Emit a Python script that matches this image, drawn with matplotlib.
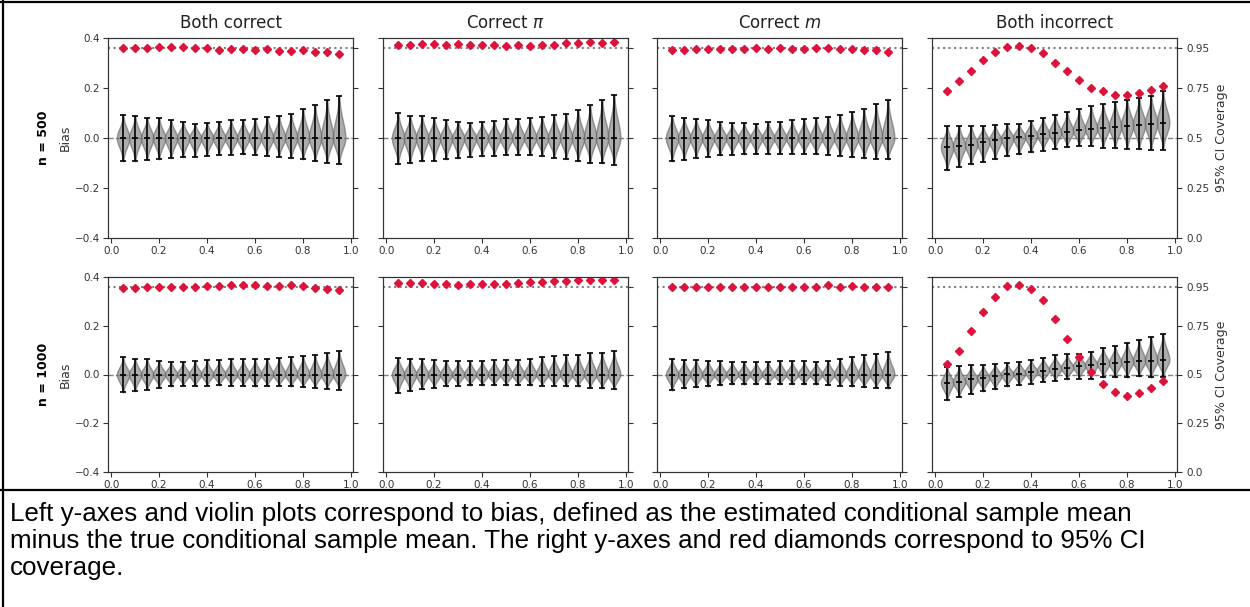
import matplotlib
matplotlib.use('Agg')
import matplotlib.pyplot as plt
from matplotlib.lines import Line2D
import numpy as np

# x positions (proportion) shared by every panel
x = [0.05, 0.10, 0.15, 0.20, 0.25, 0.30, 0.35, 0.40, 0.45, 0.50,
     0.55, 0.60, 0.65, 0.70, 0.75, 0.80, 0.85, 0.90, 0.95]

titles = ['Both correct', r'Correct $\pi$', r'Correct $m$', 'Both incorrect']
rows = ['n = 500', 'n = 1000']

# ---- n = 500 ----
cov_500_both = [0.948, 0.948, 0.952, 0.953, 0.957, 0.955, 0.950, 0.948, 0.942, 0.945,
                0.943, 0.940, 0.945, 0.937, 0.937, 0.940, 0.928, 0.928, 0.918]
mean_500_both = [0.0] * 19
lo_500_both = [-0.093, -0.093, -0.088, -0.085, -0.080, -0.077, -0.074, -0.070, -0.066, -0.066,
               -0.065, -0.068, -0.070, -0.074, -0.080, -0.085, -0.092, -0.099, -0.103]
hi_500_both = [0.092, 0.088, 0.082, 0.080, 0.072, 0.066, 0.057, 0.062, 0.066, 0.072,
               0.074, 0.078, 0.084, 0.088, 0.097, 0.116, 0.131, 0.151, 0.169]

cov_500_pi = [0.965, 0.965, 0.970, 0.970, 0.965, 0.970, 0.965, 0.965, 0.965, 0.958,
              0.965, 0.958, 0.965, 0.965, 0.973, 0.977, 0.978, 0.977, 0.982]
mean_500_pi = [0.0] * 19
lo_500_pi = [-0.104, -0.100, -0.093, -0.090, -0.085, -0.081, -0.077, -0.073, -0.070, -0.068,
             -0.068, -0.068, -0.072, -0.080, -0.084, -0.092, -0.099, -0.101, -0.107]
hi_500_pi = [0.099, 0.090, 0.088, 0.080, 0.072, 0.066, 0.061, 0.064, 0.069, 0.076,
             0.078, 0.082, 0.085, 0.092, 0.096, 0.114, 0.131, 0.153, 0.174]

cov_500_m = [0.940, 0.940, 0.943, 0.943, 0.943, 0.943, 0.947, 0.952, 0.947, 0.952,
             0.947, 0.947, 0.952, 0.952, 0.947, 0.947, 0.940, 0.940, 0.930]
mean_500_m = [0.0] * 19
lo_500_m = [-0.093, -0.088, -0.080, -0.074, -0.069, -0.066, -0.065, -0.064, -0.064, -0.062,
            -0.062, -0.062, -0.064, -0.066, -0.072, -0.077, -0.081, -0.082, -0.085]
hi_500_m = [0.090, 0.082, 0.077, 0.072, 0.064, 0.059, 0.061, 0.058, 0.064, 0.066,
            0.072, 0.076, 0.080, 0.085, 0.093, 0.103, 0.116, 0.135, 0.154]

cov_500_none = [0.733, 0.783, 0.837, 0.892, 0.930, 0.955, 0.960, 0.952, 0.925, 0.877,
                0.835, 0.792, 0.750, 0.737, 0.717, 0.717, 0.723, 0.742, 0.762]
mean_500_none = [-0.036, -0.031, -0.026, -0.016, -0.009, -0.001, 0.004, 0.009, 0.015, 0.020,
                 0.026, 0.031, 0.036, 0.042, 0.045, 0.050, 0.054, 0.058, 0.061]
lo_500_none = [-0.128, -0.115, -0.105, -0.096, -0.084, -0.072, -0.065, -0.057, -0.050, -0.042,
               -0.036, -0.031, -0.031, -0.038, -0.041, -0.043, -0.045, -0.046, -0.046]
hi_500_none = [0.049, 0.049, 0.050, 0.050, 0.054, 0.057, 0.057, 0.070, 0.082, 0.093,
               0.103, 0.115, 0.128, 0.136, 0.145, 0.154, 0.162, 0.169, 0.189]

# ---- n = 1000 ----
cov_1000_both = [0.945, 0.945, 0.948, 0.950, 0.948, 0.948, 0.950, 0.953, 0.955, 0.958,
                 0.958, 0.958, 0.955, 0.955, 0.957, 0.952, 0.945, 0.938, 0.935]
mean_1000_both = [0.0] * 19
lo_1000_both = [-0.073, -0.068, -0.062, -0.054, -0.049, -0.046, -0.046, -0.046, -0.045, -0.046,
                -0.046, -0.049, -0.046, -0.046, -0.049, -0.052, -0.054, -0.058, -0.062]
hi_1000_both = [0.070, 0.065, 0.062, 0.057, 0.053, 0.053, 0.056, 0.058, 0.058, 0.062,
                0.062, 0.062, 0.065, 0.068, 0.072, 0.075, 0.078, 0.087, 0.097]

cov_1000_pi = [0.968, 0.968, 0.968, 0.965, 0.962, 0.960, 0.965, 0.965, 0.965, 0.965,
               0.968, 0.972, 0.975, 0.978, 0.982, 0.983, 0.983, 0.983, 0.985]
mean_1000_pi = [0.0] * 19
lo_1000_pi = [-0.075, -0.068, -0.060, -0.054, -0.049, -0.046, -0.045, -0.044, -0.044, -0.044,
              -0.044, -0.045, -0.046, -0.046, -0.049, -0.049, -0.054, -0.057, -0.060]
hi_1000_pi = [0.069, 0.065, 0.062, 0.060, 0.057, 0.054, 0.054, 0.057, 0.060, 0.060,
              0.060, 0.065, 0.072, 0.074, 0.079, 0.082, 0.087, 0.090, 0.095]

cov_1000_m = [0.947, 0.950, 0.947, 0.947, 0.950, 0.947, 0.947, 0.950, 0.947, 0.947,
              0.950, 0.950, 0.947, 0.958, 0.950, 0.953, 0.947, 0.947, 0.947]
mean_1000_m = [0.0] * 19
lo_1000_m = [-0.065, -0.057, -0.052, -0.049, -0.044, -0.041, -0.041, -0.041, -0.040, -0.040,
             -0.040, -0.041, -0.041, -0.044, -0.046, -0.049, -0.052, -0.054, -0.057]
hi_1000_m = [0.065, 0.060, 0.060, 0.057, 0.054, 0.053, 0.053, 0.052, 0.052, 0.054,
             0.054, 0.054, 0.052, 0.057, 0.065, 0.072, 0.079, 0.086, 0.093]

cov_1000_none = [0.553, 0.618, 0.725, 0.818, 0.900, 0.953, 0.958, 0.937, 0.880, 0.785,
                 0.683, 0.590, 0.515, 0.450, 0.412, 0.390, 0.405, 0.432, 0.467]
mean_1000_none = [-0.033, -0.029, -0.020, -0.015, -0.007, 0.001, 0.004, 0.011, 0.016, 0.023,
                  0.028, 0.034, 0.040, 0.045, 0.048, 0.053, 0.056, 0.057, 0.061]
lo_1000_none = [-0.105, -0.091, -0.079, -0.069, -0.060, -0.049, -0.044, -0.037, -0.029, -0.025,
                -0.020, -0.017, -0.017, -0.012, -0.012, -0.012, -0.008, -0.012, -0.012]
hi_1000_none = [0.030, 0.034, 0.038, 0.041, 0.045, 0.048, 0.053, 0.061, 0.069, 0.078,
                0.083, 0.086, 0.093, 0.109, 0.117, 0.130, 0.142, 0.155, 0.168]

panels = [
    [(cov_500_both, mean_500_both, lo_500_both, hi_500_both),
     (cov_500_pi, mean_500_pi, lo_500_pi, hi_500_pi),
     (cov_500_m, mean_500_m, lo_500_m, hi_500_m),
     (cov_500_none, mean_500_none, lo_500_none, hi_500_none)],
    [(cov_1000_both, mean_1000_both, lo_1000_both, hi_1000_both),
     (cov_1000_pi, mean_1000_pi, lo_1000_pi, hi_1000_pi),
     (cov_1000_m, mean_1000_m, lo_1000_m, hi_1000_m),
     (cov_1000_none, mean_1000_none, lo_1000_none, hi_1000_none)],
]

TXT = '#333333'


def violin_stats(m, lo, hi):
    # density shape for one violin, spread taken from the whisker ends
    ys = np.linspace(lo, hi, 120)
    sig = np.where(ys < m, (m - lo) / 2.5, (hi - m) / 2.5)
    vals = np.exp(-0.5 * ((ys - m) / sig) ** 2)
    return dict(coords=ys, vals=vals, mean=m, median=m, min=lo, max=hi)


fig = plt.figure(figsize=(12.5, 6.07), dpi=100)

W, H = 1250, 607
lefts = [108, 383, 657, 932]
tops = [38, 277]
heights = [200, 195]
aw = 245

for r in range(2):
    for c in range(4):
        cov, mean, lo, hi = panels[r][c]
        ah = heights[r]
        ax = fig.add_axes([lefts[c] / W, 1 - (tops[r] + ah) / H, aw / W, ah / H])
        ax.axhline(0, color='grey', ls='--', lw=1, zorder=0)
        stats = [violin_stats(m, a, b) for m, a, b in zip(mean, lo, hi)]
        vp = ax.violin(stats, positions=x, widths=0.052, showmeans=True, showextrema=True)
        for body in vp['bodies']:
            body.set_facecolor('grey')
            body.set_edgecolor('dimgrey')
            body.set_alpha(0.65)
        for key in ['cbars', 'cmins', 'cmaxes', 'cmeans']:
            vp[key].set_color('black')
            vp[key].set_linewidth(1.2)
        ax.set_xlim(-0.013, 1.008)
        ax.set_ylim(-0.4, 0.4)
        ax.set_xticks([0.0, 0.2, 0.4, 0.6, 0.8, 1.0])
        ax.set_yticks([-0.4, -0.2, 0.0, 0.2, 0.4])
        ax.tick_params(labelsize=7.5, colors=TXT, length=3.5, pad=2.5, labelleft=(c == 0))
        for s in ax.spines.values():
            s.set_color(TXT)

        ax2 = ax.twinx()
        ax2.axhline(0.95, color='grey', ls=':', lw=1.5, zorder=0)
        ax2.plot(x, cov, ls='none', marker='D', ms=4.5, color='#dc143c')
        ax2.set_ylim(0, 1)
        ax2.set_yticks([0.0, 0.25, 0.5, 0.75, 0.95])
        ax2.set_yticklabels(['0.0', '0.25', '0.5', '0.75', '0.95'])
        ax2.tick_params(labelsize=7.5, colors=TXT, length=3.5, labelright=(c == 3))
        for s in ax2.spines.values():
            s.set_color(TXT)

        if r == 0:
            ax.set_title(titles[c], fontsize=12, color='#222222', pad=7)
        if c == 0:
            ax.set_ylabel('Bias', fontsize=9, color=TXT, labelpad=2)
            ax.text(-0.265, 0.5, rows[r], rotation=90, fontsize=9, fontweight='bold',
                    ha='center', va='center', transform=ax.transAxes)
        if c == 3:
            ax2.set_ylabel('95% CI Coverage', fontsize=9, color=TXT, labelpad=4)

# frame and caption
fig.add_artist(Line2D([0.002, 0.002], [0, 1], color='black', lw=1.6))
fig.add_artist(Line2D([0, 1], [1 - 1.5 / H, 1 - 1.5 / H], color='black', lw=1.6))
fig.add_artist(Line2D([0, 1], [1 - 490 / H, 1 - 490 / H], color='black', lw=1.6))

caption = ('Left y-axes and violin plots correspond to bias, defined as the estimated conditional sample mean\n'
           'minus the true conditional sample mean. The right y-axes and red diamonds correspond to 95% CI\n'
           'coverage.')
fig.text(10 / W, 1 - 502 / H, caption, fontsize=18.7, family='Liberation Sans',
         ha='left', va='top', linespacing=1.16, color='black')

fig.savefig('out.png', dpi=100)
